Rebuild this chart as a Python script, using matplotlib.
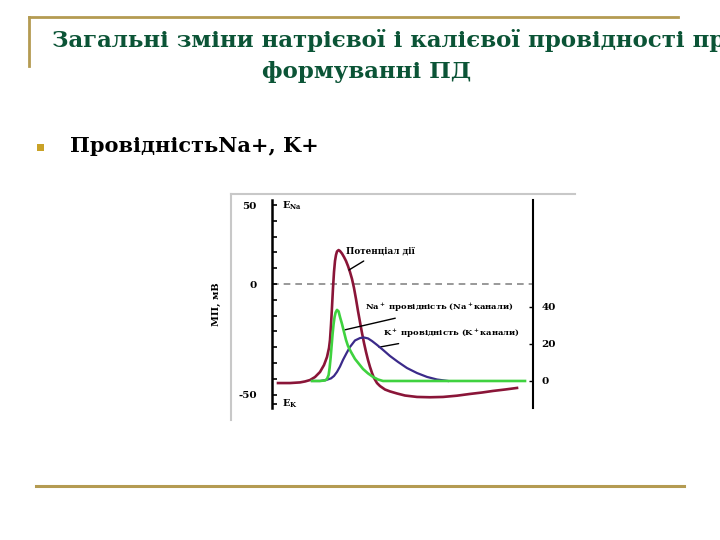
import numpy as np
import matplotlib.pyplot as plt
from matplotlib.lines import Line2D

plt.rcParams['mathtext.default'] = 'regular'

# action potential, membrane potential in mV (time in arbitrary units)
ap_t = [0.30, 0.90, 1.40, 1.65, 1.90, 2.15, 2.40, 2.60, 2.75, 2.85, 2.90, 2.95, 3.00, 3.05,
        3.10, 3.15, 3.20, 3.25, 3.33, 3.40, 3.50, 3.60, 3.70, 3.80, 3.90, 4.00, 4.10, 4.20,
        4.30, 4.40, 4.50, 4.60, 4.70, 4.80, 4.90, 5.00, 5.10, 5.25, 5.40, 5.65, 5.90, 6.25,
        6.65, 7.25, 7.90, 8.55, 9.25, 9.90, 10.5, 11.05, 11.65, 12.25]
ap_mv = [-62.7, -62.7, -62.3, -61.7, -60.8, -58.9, -55.7, -51.3, -46.2, -40.5, -35.4, -25.9,
         -14.6, -2.5, 7.6, 14.6, 18.4, 20.6, 21.5, 20.9, 19.3, 17.1, 14.6, 11.4, 7.6, 3.2,
         -2.5, -9.5, -17.1, -24.1, -31.0, -37.3, -43.0, -48.1, -52.5, -56.3, -59.5, -62.7,
         -64.6, -66.8, -68.0, -69.3, -70.6, -71.5, -71.7, -71.5, -70.7, -69.6, -68.7, -67.7,
         -66.8, -65.8]

# Na+ conductance
na_t = [2.0, 2.4, 2.65, 2.75, 2.83, 2.88, 2.93, 2.98, 3.03, 3.08, 3.13, 3.18, 3.25, 3.33,
        3.4, 3.5, 3.6, 3.7, 3.8, 3.95, 4.15, 4.35, 4.55, 4.8, 5.05, 5.3, 5.55, 12.65]
na_g = [0, 0, 0.3, 1.1, 3.2, 7.0, 12.4, 18.9, 25.4, 30.8, 34.6, 37.0, 38.4, 37.6,
        34.6, 30.8, 26.5, 22.2, 18.9, 15.7, 11.9, 9.2, 6.5, 4.1, 2.2, 0.8, 0, 0]

# K+ conductance
k_t = [2.0, 2.4, 2.7, 2.95, 3.1, 3.25, 3.4, 3.55, 3.73, 3.9, 4.15, 4.4, 4.6, 4.8, 5.0,
       5.25, 5.55, 5.9, 6.3, 6.75, 7.25, 7.75, 8.25, 8.8]
k_g = [0, 0, 0.5, 1.4, 2.7, 4.9, 7.8, 11.4, 15.1, 18.4, 21.9, 23.2, 23.5, 23.0, 21.6,
       19.5, 16.8, 13.5, 10.3, 7.0, 4.3, 2.2, 0.8, 0]

mv_ticks = [50, 40, 30, 20, 10, 0, -10, -20, -30, -40, -50, -60, -70, -76]
mv_labels = ['50', '', '', '', '', '0', '', '', '', '', '', '', '-50', '']
g_ticks = [0, 20, 40]

gold = '#b49b52'
serif = 'DejaVu Serif'

fig = plt.figure(figsize=(7.2, 5.4), dpi=100)

# slide decorations
fig.add_artist(Line2D([29/720, 678/720], [1-17/540, 1-17/540], color=gold, lw=2))
fig.add_artist(Line2D([29/720, 29/720], [1-17/540, 1-66/540], color=gold, lw=2))
fig.add_artist(Line2D([36/720, 684/720], [1-486/540, 1-486/540], color=gold, lw=2.2))

fig.text(52/720, 1-40/540, 'Загальні зміни натрієвої і калієвої провідності при',
         fontsize=16.5, fontweight='bold', family=serif, color='#0b5436', va='center', ha='left')
fig.text(367/720, 1-72/540, 'формуванні ПД',
         fontsize=16.5, fontweight='bold', family=serif, color='#0b5436', va='center', ha='center')

fig.add_artist(plt.Rectangle((37/720, 1-151/540), 7/720, 7/540, color='#c9a227', lw=0))
fig.text(70/720, 1-146/540, 'ПровідністьNa+, K+', fontsize=15, fontweight='bold',
         family=serif, color='black', va='center', ha='left')

# frame of the embedded picture
fig.add_artist(Line2D([231/720, 575/720], [1-194/540, 1-194/540], color='#c8c8c8', lw=1.5))
fig.add_artist(Line2D([231/720, 231/720], [1-194/540, 1-420/540], color='#c8c8c8', lw=1.5))

ax = fig.add_axes([272/720, 132/540, 261/720, 208/540])
ax2 = ax.twinx()

ax.plot(ap_t, ap_mv, color='#8a1538', lw=1.9, zorder=3)
ax2.plot(k_t, k_g, color='#3b2a8a', lw=1.6, zorder=2)
ax2.plot(na_t, na_g, color='#3fd23f', lw=1.9, zorder=2)
ax.axhline(0, color='#888888', lw=1.2, ls=(0, (4, 3)), zorder=1)

ax.set_xlim(0, 13.05)
ax.set_ylim(-78.5, 53.2)
ax2.set_ylim(-14.6, 97.8)

for a in (ax, ax2):
    a.spines['top'].set_visible(False)
    a.spines['bottom'].set_visible(False)
    a.set_facecolor('none')
    a.set_xticks([])
ax.spines['right'].set_visible(False)
ax2.spines['left'].set_visible(False)
ax.spines['left'].set_linewidth(1.8)
ax2.spines['right'].set_linewidth(1.5)

ax.set_yticks(mv_ticks)
ax.set_yticklabels(mv_labels)
ax.tick_params(axis='y', direction='in', length=3.5, width=1.2, pad=11, labelsize=7.5)
ax2.set_yticks(g_ticks)
ax2.tick_params(axis='y', direction='in', length=3, width=1.0, pad=6, labelsize=7.5)
for lab in ax.get_yticklabels() + ax2.get_yticklabels():
    lab.set_fontweight('bold')
    lab.set_family(serif)

ax.set_ylabel('МП, мВ', fontsize=7, fontweight='bold', family=serif, labelpad=12)

ax.text(0.5, 49.5, 'E$_{Na}$', fontsize=7, fontweight='bold', family=serif, va='center')
ax.text(0.5, -76, 'E$_{K}$', fontsize=7, fontweight='bold', family=serif, va='center')

ax.annotate('Потенціал дії', xy=(3.85, 8.9), xytext=(3.7, 21), fontsize=6.3,
            fontweight='bold', family=serif, va='center',
            arrowprops=dict(arrowstyle='-', color='black', lw=1, shrinkA=4, shrinkB=0))
ax.annotate('Na$^+$ провідність (Na$^+$канали)', xy=(3.65, -29), xytext=(4.65, -15.2),
            fontsize=6, fontweight='bold', family=serif, va='center',
            arrowprops=dict(arrowstyle='-', color='black', lw=1, shrinkA=4, shrinkB=0))
ax.annotate('K$^+$ провідність (K$^+$канали)', xy=(5.35, -40), xytext=(5.55, -31.6),
            fontsize=6, fontweight='bold', family=serif, va='center',
            arrowprops=dict(arrowstyle='-', color='black', lw=1, shrinkA=3, shrinkB=0))

fig.savefig('out.png', dpi=100)
